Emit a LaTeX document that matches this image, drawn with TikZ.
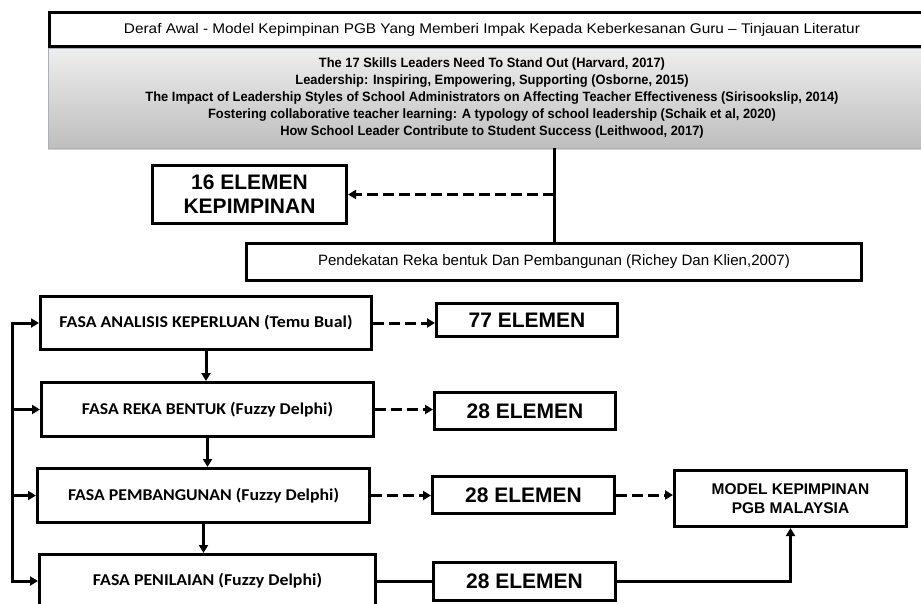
\documentclass[tikz,border=0pt]{standalone}
\usepackage{fontspec}
\setmainfont{Liberation Sans}
\newfontfamily\calfont{Carlito}
\usetikzlibrary{arrows.meta,shadows}

\definecolor{panelTop}{RGB}{238,238,238}
\definecolor{panelBot}{RGB}{190,190,190}
\definecolor{panelEdge}{RGB}{170,176,186}

% scale a text horizontally to a given width, keeping its height
\newcommand\fitw[2]{\resizebox{#1}{\height}{#2}}
\newcommand\titlefont{\fontsize{14}{16}\selectfont}
\newcommand\reffont{\fontsize{13.5}{17}\selectfont\bfseries}
\newcommand\phasefont{\calfont\bfseries\fontsize{16.5}{18}\selectfont}
\newcommand\countfont{\bfseries\fontsize{21}{24}\selectfont}
\newcommand\modelfont{\bfseries\fontsize{15.5}{19}\selectfont}

\tikzset{
  box/.style={draw, line width=3pt, fill=white, inner sep=0pt, align=center,
    drop shadow={shadow xshift=1.5pt, shadow yshift=-1.5pt, opacity=0.25}},
  panel/.style={draw=panelEdge, line width=0.8pt, top color=panelTop,
    bottom color=panelBot, inner sep=0pt,
    drop shadow={shadow xshift=0pt, shadow yshift=-2pt, opacity=0.35}},
  conn/.style={line width=3pt},
  arr/.style={conn, -{Triangle[length=8pt,width=9pt]}},
  dasharr/.style={arr, dash pattern=on 11pt off 5pt},
}

\begin{document}
\begin{tikzpicture}[x=1pt,y=-1pt]
\useasboundingbox (0,0) rectangle (921,604);

% literature review header
\node[panel, minimum width=888pt, minimum height=100pt] (lit) at (492,98)
  {\fitw{693pt}{\reffont\begin{tabular}{@{}c@{}}
   The 17 Skills Leaders Need To Stand Out (Harvard, 2017)\\
   Leadership: Inspiring, Empowering, Supporting (Osborne, 2015)\\
   The Impact of Leadership Styles of School Administrators on Affecting Teacher Effectiveness (Sirisookslip, 2014)\\
   Fostering collaborative teacher learning: A typology of school leadership (Schaik et al, 2020)\\
   How School Leader Contribute to Student Success (Leithwood, 2017)
   \end{tabular}}};
\node[box, minimum width=885pt, minimum height=34pt] (title) at (492,29.5)
  {\fitw{736pt}{\titlefont Deraf Awal - Model Kepimpinan PGB Yang Memberi Impak Kepada Keberkesanan Guru – Tinjauan Literatur}};

\node[box, font=\countfont, minimum width=194pt, minimum height=58pt] (k16) at (249.5,194.5)
  {16 ELEMEN\\ KEPIMPINAN};
\node[box, minimum width=615pt, minimum height=37pt] (pend) at (554,262)
  {\fitw{472pt}{\fontsize{15}{17}\selectfont Pendekatan Reka bentuk Dan Pembangunan (Richey Dan Klien,2007)}};

% phases
\node[box, minimum width=331pt, minimum height=53pt] (f1) at (206,323)
  {\fitw{293pt}{\phasefont FASA ANALISIS KEPERLUAN (Temu Bual)}};
\node[box, minimum width=332pt, minimum height=54pt] (f2) at (207.5,409.5)
  {\fitw{251pt}{\phasefont FASA REKA BENTUK (Fuzzy Delphi)}};
\node[box, minimum width=332pt, minimum height=54pt] (f3) at (203.5,495.5)
  {\fitw{271pt}{\phasefont FASA PEMBANGUNAN (Fuzzy Delphi)}};
\node[box, minimum width=336pt, minimum height=53pt] (f4) at (207.5,581)
  {\fitw{229pt}{\phasefont FASA PENILAIAN (Fuzzy Delphi)}};

% element counts
\node[box, font=\countfont, minimum width=181pt, minimum height=33pt] (e77) at (527,320) {77 ELEMEN};
\node[box, font=\countfont, minimum width=181pt, minimum height=37pt] (e28a) at (525,411) {28 ELEMEN};
\node[box, font=\countfont, minimum width=182pt, minimum height=37pt] (e28b) at (523.5,495) {28 ELEMEN};
\node[box, font=\countfont, minimum width=182pt, minimum height=38pt] (e28c) at (524.5,581.5) {28 ELEMEN};

\node[box, font=\modelfont, minimum width=232pt, minimum height=56pt] (model) at (790.5,498.5)
  {MODEL KEPIMPINAN\\ PGB MALAYSIA};

% connectors
\coordinate (bus) at (12,0);
\draw[conn] (lit.south -| pend.north) -- (pend.north);
\draw[dasharr] (k16.east -| pend.north) -- (k16.east);

\draw[arr] (f1.south) -- (f1.south |- f2.north);
\draw[arr] (f2.south) -- (f2.south |- f3.north);
\draw[arr] (f3.south) -- (f3.south |- f4.north);

\draw[arr] (bus |- f4.west) |- (f1.west);
\draw[arr] (bus |- f1.west) |- (f4.west);
\draw[arr] (bus |- f2.west) -- (f2.west);
\draw[arr] (bus |- f3.west) -- (f3.west);

\draw[dasharr] (f1.east) -- (f1.east -| e77.west);
\draw[dasharr] (f2.east) -- (f2.east -| e28a.west);
\draw[dasharr] (f3.east) -- (f3.east -| e28b.west);
\draw[conn] (f4.east) -- (f4.east -| e28c.west);

\draw[dasharr] (e28b.east) -- (e28b.east -| model.west);
\draw[arr] (e28c.east) -| (model.south);
\end{tikzpicture}
\end{document}
